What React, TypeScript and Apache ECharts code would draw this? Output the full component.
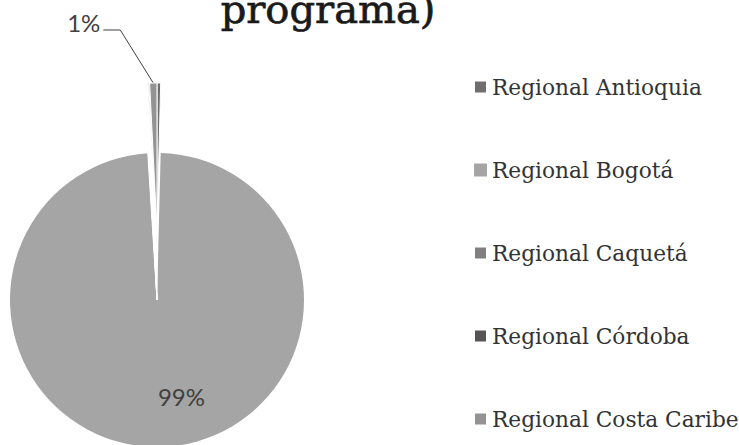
import React, { useEffect, useRef } from "react";
import * as echarts from "echarts";

const categories = [
  "Regional Antioquia",
  "Regional Bogotá",
  "Regional Caquetá",
  "Regional Córdoba",
  "Regional Costa Caribe",
];
const values = [0.4, 98.6, 0.1, 0.1, 0.8];
const colors = ["#6e6e6e", "#a5a5a5", "#808080", "#555555", "#939393"];
const bigIndex = 1;
const labeledSmall = 4;
const titleText = "programa)";

export default function App() {
  const ref = useRef<HTMLDivElement>(null);
  useEffect(() => {
    if (!ref.current) return;
    const chart = echarts.init(ref.current, null, { renderer: "svg" });
    const pct = (p: any) => Math.round(p.percent) + "%";

    const mainData = categories.map((name, i) => ({
      name,
      value: values[i],
      itemStyle: {
        color: i === bigIndex ? colors[i] : "#ffffff",
        borderColor: i === bigIndex ? colors[i] : "#ffffff",
        borderWidth: i === bigIndex ? 0 : 1,
      },
      label: { show: i === bigIndex },
    }));
    const explodedData = categories.map((name, i) => ({
      name,
      value: values[i],
      itemStyle: {
        color: i === bigIndex ? "rgba(0,0,0,0)" : colors[i],
        borderColor: i === bigIndex ? "rgba(0,0,0,0)" : "#ffffff",
        borderWidth: i === bigIndex ? 0 : 1,
      },
      label: { show: i === labeledSmall },
      labelLine: { show: i === labeledSmall },
    }));

    chart.setOption({
      animation: false,
      backgroundColor: "#ffffff",
      graphic: [
        {
          type: "text",
          x: 328,
          y: 9,
          style: {
            text: titleText,
            font: "40px 'DejaVu Serif'",
            fill: "#1a1a1a",
            stroke: "#1a1a1a",
            lineWidth: 0.7,
            align: "center",
            verticalAlign: "middle",
          },
        },
      ],
      legend: {
        orient: "vertical",
        left: 473,
        top: 76,
        padding: 0,
        itemGap: 61,
        itemWidth: 13,
        itemHeight: 13,
        icon: "rect",
        selectedMode: false,
        textStyle: {
          fontFamily: "DejaVu Serif",
          fontSize: 21.7,
          lineHeight: 22,
          color: "#333333",
        },
        data: categories.map((name, i) => ({
          name,
          itemStyle: { color: colors[i] },
        })),
      },
      series: [
        {
          type: "pie",
          silent: true,
          center: [157, 300],
          radius: 147,
          startAngle: 90,
          clockwise: true,
          avoidLabelOverlap: false,
          label: {
            position: "inside",
            formatter: pct,
            fontFamily: "Lato",
            fontSize: 24,
            color: "#404040",
          },
          labelLayout: { dx: 23, dy: 20 },
          labelLine: { show: false },
          data: mainData,
        },
        {
          type: "pie",
          silent: true,
          center: [157, 230],
          radius: 147,
          startAngle: 90,
          clockwise: true,
          avoidLabelOverlap: false,
          label: {
            position: "outside",
            formatter: pct,
            fontFamily: "Lato",
            fontSize: 24,
            color: "#404040",
          },
          labelLine: {
            show: true,
            length: 20,
            length2: 20,
            lineStyle: { color: "#404040", width: 1 },
          },
          labelLayout: (params: any) => {
            if (params.dataIndex !== labeledSmall) return {};
            const pts = params.labelLinePoints;
            const p0 = pts && pts[0] ? pts[0] : [153, 83];
            return {
              x: p0[0] - 53,
              y: 22,
              align: "right",
              verticalAlign: "middle",
              labelLinePoints: [
                [p0[0], p0[1]],
                [p0[0] - 33, 30],
                [p0[0] - 50, 30],
              ],
            };
          },
          data: explodedData,
        },
      ],
    });
    return () => chart.dispose();
  }, []);
  return (
    <div
      ref={ref}
      style={{ position: "fixed", left: 0, top: 0, width: 739, height: 445 }}
    />
  );
}
